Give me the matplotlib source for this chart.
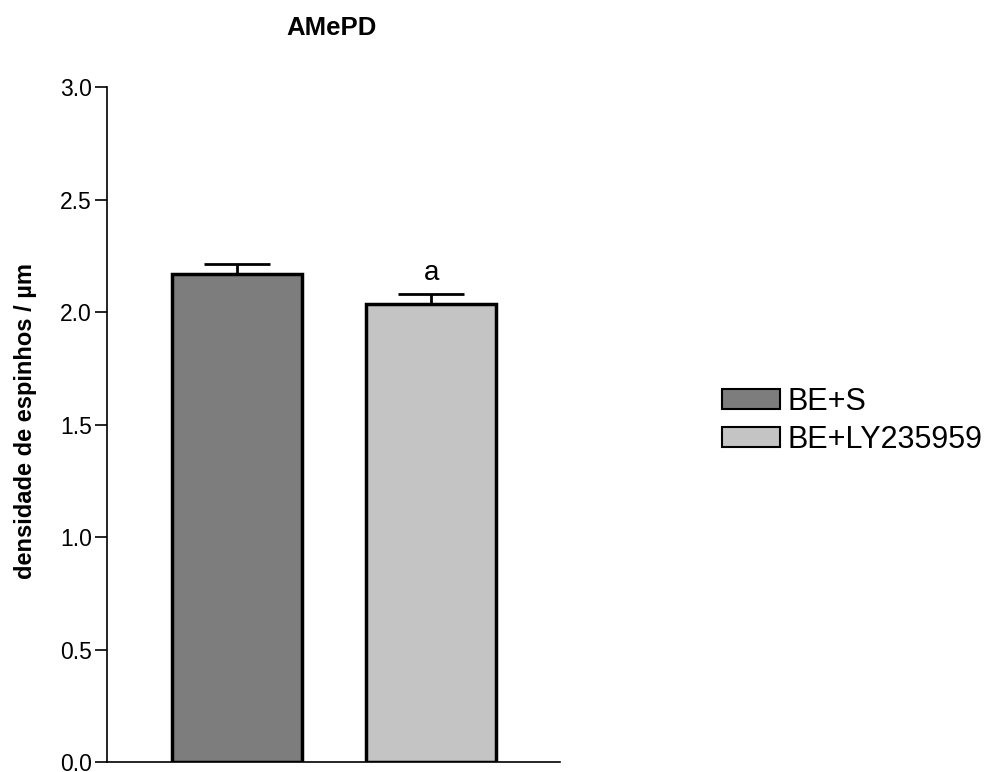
import matplotlib.pyplot as plt
from matplotlib.patches import Patch

plt.rcParams['font.family'] = ['Liberation Sans', 'DejaVu Sans']

groups = ["BE+S", "BE+LY235959"]
means = [2.17, 2.035]
sems = [0.044, 0.044]
colors = ["#7d7d7d", "#c4c4c4"]
marks = ["", "a"]
yticks = [0.0, 0.5, 1.0, 1.5, 2.0, 2.5, 3.0]

fig = plt.figure(figsize=(9.94, 7.72), dpi=100)
ax = fig.add_axes([0.1076, 0.013, 0.4555, 0.874])

x = list(range(len(groups)))
ax.bar(x, means, width=0.667, color=colors, edgecolor="black", linewidth=2.5, zorder=2)
ax.errorbar(x, means, yerr=[[0, 0], sems], fmt="none", ecolor="black",
            elinewidth=2, capsize=24, capthick=2, zorder=1)

for xi, m, s, t in zip(x, means, sems, marks):
    if t:
        ax.text(xi, m + s + 0.065, t, ha="center", va="baseline", fontsize=20)

ax.set_xlim(-0.667, 1.66)
ax.set_ylim(0, 3.0)
ax.set_xticks([])
ax.set_yticks(yticks)
ax.set_yticklabels([f"{v:.1f}" for v in yticks], fontsize=16.5, va="center_baseline")
ax.tick_params(axis="y", direction="out", length=9, width=1.2, pad=2)
ax.spines["top"].set_visible(False)
ax.spines["right"].set_visible(False)
ax.spines["left"].set_linewidth(1.2)
ax.spines["bottom"].set_linewidth(1.2)

fig.text(26 / 994, 1 - 421 / 772, "densidade de espinhos / µm", rotation=90,
         ha="center", va="center", fontsize=17, fontweight="bold")
fig.text(332 / 994, 1 - 28 / 772, "AMePD", ha="center", va="center",
         fontsize=18.5, fontweight="bold")

handles = [Patch(facecolor=c, edgecolor="black", linewidth=1.5) for c in colors]
fig.legend(handles, groups, loc="center left", bbox_to_anchor=(722 / 994, 1 - 421 / 772),
           frameon=False, fontsize=22, handlelength=1.9, handleheight=0.62,
           handletextpad=0.26, labelspacing=0.27, borderpad=0, borderaxespad=0)

fig.savefig("out.png", dpi=100)
